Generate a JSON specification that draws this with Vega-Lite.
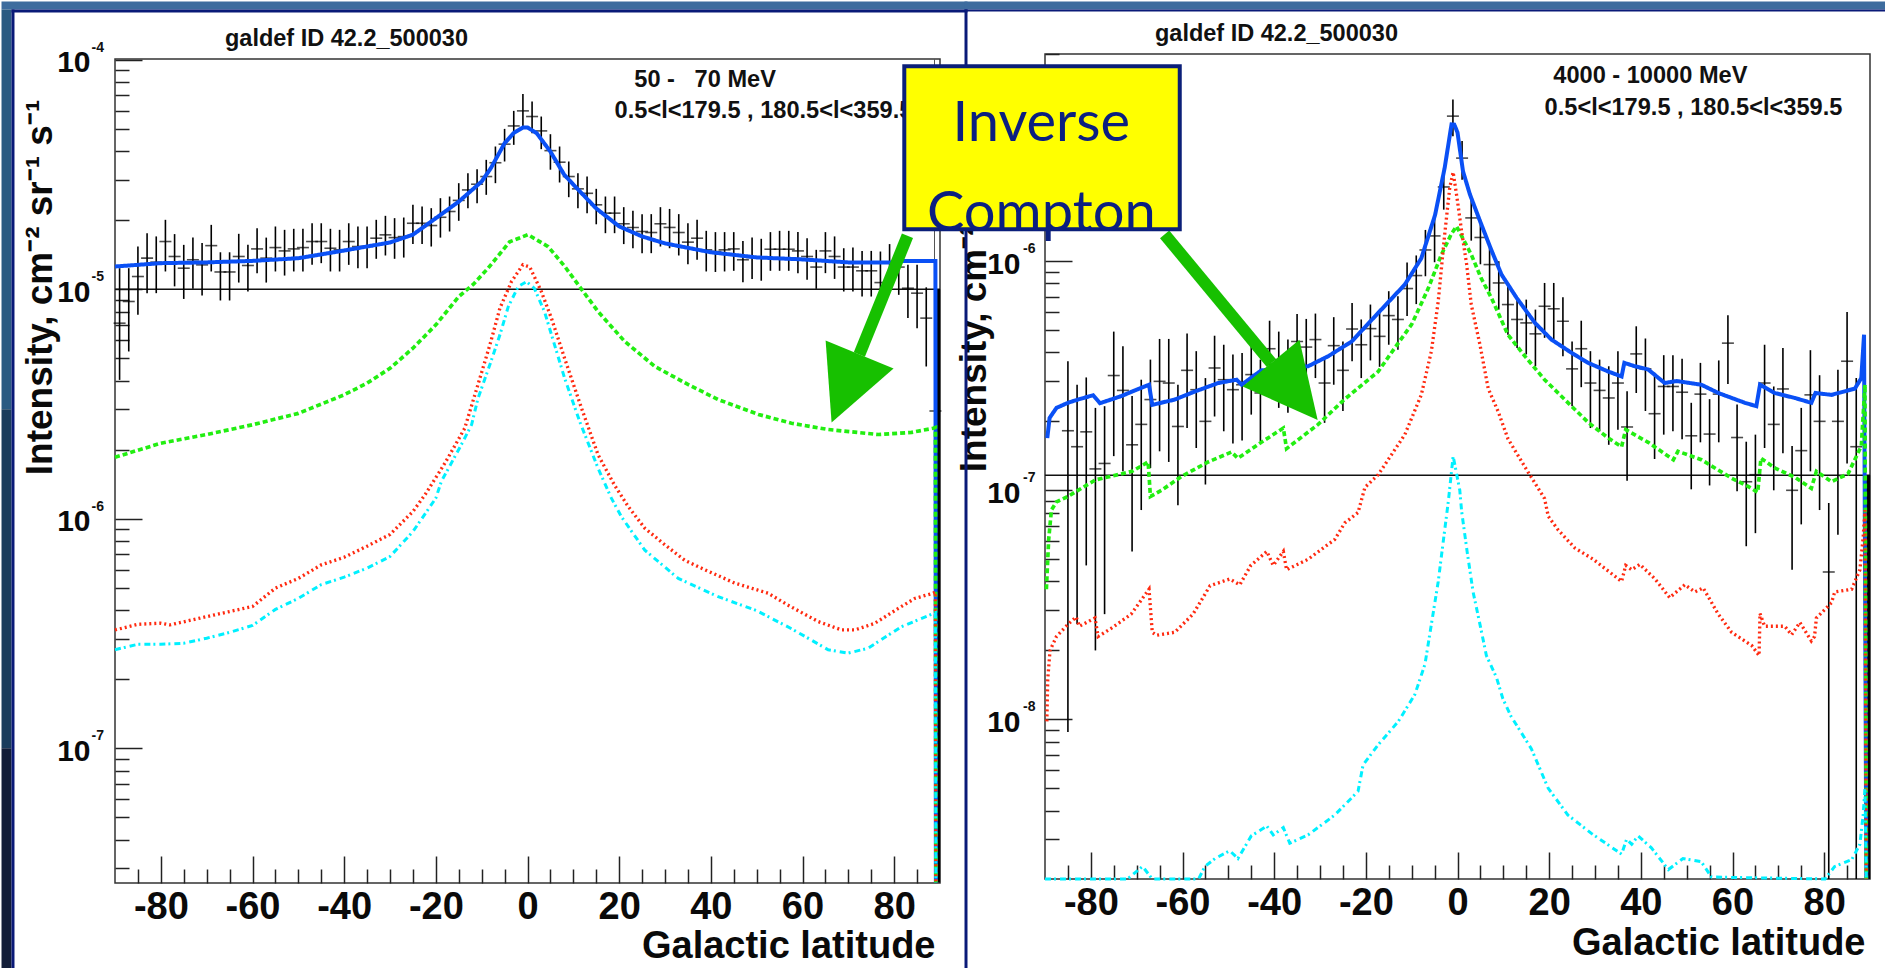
{
"$schema":"https://vega.github.io/schema/vega-lite/v6.json",
"padding":0,"autosize":{"type":"pad"},"background":"#ffffff","bounds":"flush","spacing":930,
"config":{"font":"Liberation Sans","view":{"stroke":"#333333","strokeWidth":1.5},"axis":{"grid":false,"domain":false,"tickColor":"#222222","tickWidth":1.5,"labelColor":"#0a0a0a","titleColor":"#0a0a0a","labelFont":"Liberation Sans","titleFont":"Liberation Sans","labelFontWeight":"bold","titleFontWeight":"bold"}},
"datasets":{
"stripL":[{"x":-114.76,"x2":96,"y":1.795e-4,"y2":1.656e-4,"band":"sky"},{"x":-114.76,"x2":-112.58,"y":1.656e-4,"y2":3e-6,"band":"upper"},{"x":-114.76,"x2":-112.58,"y":3e-6,"y2":1e-7,"band":"middle"},{"x":-114.76,"x2":-112.58,"y":1e-7,"y2":1.104e-8,"band":"lower"},{"x":-112.58,"x2":-111.93,"y":1.656e-4,"y2":1.104e-8,"band":"navy"},{"x":-112.58,"x2":96,"y":1.656e-4,"y2":1.607e-4,"band":"navy"}],
"stripR":[{"x":-107.56,"x2":93.6,"y":1.361e-5,"y2":1.256e-5,"band":"sky"},{"x":-107.56,"x2":-106.91,"y":1.256e-5,"y2":8.21e-10,"band":"navy"},{"x":-107.56,"x2":93.6,"y":1.256e-5,"y2":1.231e-5,"band":"navy"}],
"curvesL":[
{"s":"total","x":-90,"y":1.257e-5},{"s":"total","x":-80,"y":1.30e-5},{"s":"total","x":-70,"y":1.31e-5},{"s":"total","x":-60,"y":1.33e-5},{"s":"total","x":-50,"y":1.366e-5},{"s":"total","x":-40,"y":1.476e-5},{"s":"total","x":-30,"y":1.6e-5},{"s":"total","x":-25,"y":1.73e-5},{"s":"total","x":-20,"y":2.04e-5},{"s":"total","x":-15,"y":2.41e-5},{"s":"total","x":-12,"y":2.72e-5},{"s":"total","x":-10,"y":2.95e-5},{"s":"total","x":-8,"y":3.37e-5},{"s":"total","x":-5,"y":4.33e-5},{"s":"total","x":-3,"y":4.8e-5},{"s":"total","x":-1,"y":5.07e-5},{"s":"total","x":0,"y":5.07e-5},{"s":"total","x":2,"y":4.79e-5},{"s":"total","x":5,"y":3.98e-5},{"s":"total","x":8,"y":3.16e-5},{"s":"total","x":10,"y":2.86e-5},{"s":"total","x":15,"y":2.25e-5},{"s":"total","x":20,"y":1.88e-5},{"s":"total","x":25,"y":1.7e-5},{"s":"total","x":30,"y":1.585e-5},{"s":"total","x":40,"y":1.45e-5},{"s":"total","x":50,"y":1.377e-5},{"s":"total","x":60,"y":1.35e-5},{"s":"total","x":70,"y":1.31e-5},{"s":"total","x":80,"y":1.31e-5},{"s":"total","x":81,"y":1.33e-5},{"s":"total","x":89,"y":1.33e-5},{"s":"total","x":89.1,"y":2.6e-8},
{"s":"ic","x":-90,"y":1.855e-6},{"s":"ic","x":-80,"y":2.135e-6},{"s":"ic","x":-70,"y":2.33e-6},{"s":"ic","x":-60,"y":2.57e-6},{"s":"ic","x":-50,"y":2.88e-6},{"s":"ic","x":-40,"y":3.47e-6},{"s":"ic","x":-35,"y":3.9e-6},{"s":"ic","x":-30,"y":4.53e-6},{"s":"ic","x":-25,"y":5.54e-6},{"s":"ic","x":-20,"y":7e-6},{"s":"ic","x":-15,"y":9.3e-6},{"s":"ic","x":-11.85,"y":1.05e-5},{"s":"ic","x":-8.6,"y":1.236e-5},{"s":"ic","x":-3.9,"y":1.61e-5},{"s":"ic","x":0.1,"y":1.73e-5},{"s":"ic","x":4.5,"y":1.535e-5},{"s":"ic","x":8.1,"y":1.26e-5},{"s":"ic","x":11.8,"y":1e-5},{"s":"ic","x":15.4,"y":8e-6},{"s":"ic","x":21.2,"y":5.93e-6},{"s":"ic","x":27.8,"y":4.61e-6},{"s":"ic","x":35,"y":3.85e-6},{"s":"ic","x":41.6,"y":3.31e-6},{"s":"ic","x":50.4,"y":2.85e-6},{"s":"ic","x":57.6,"y":2.61e-6},{"s":"ic","x":65.6,"y":2.45e-6},{"s":"ic","x":76.5,"y":2.33e-6},{"s":"ic","x":83.8,"y":2.38e-6},{"s":"ic","x":88.5,"y":2.48e-6},{"s":"ic","x":89,"y":2.5e-6},{"s":"ic","x":89.1,"y":2.6e-8},
{"s":"red","x":-90,"y":3.28e-7},{"s":"red","x":-85,"y":3.47e-7},{"s":"red","x":-80,"y":3.51e-7},{"s":"red","x":-78,"y":3.45e-7},{"s":"red","x":-70,"y":3.75e-7},{"s":"red","x":-60,"y":4.15e-7},{"s":"red","x":-55,"y":4.99e-7},{"s":"red","x":-50,"y":5.5e-7},{"s":"red","x":-45,"y":6.3e-7},{"s":"red","x":-40,"y":6.8e-7},{"s":"red","x":-35,"y":7.6e-7},{"s":"red","x":-30,"y":8.55e-7},{"s":"red","x":-25,"y":1.076e-6},{"s":"red","x":-22.4,"y":1.27e-6},{"s":"red","x":-18,"y":1.75e-6},{"s":"red","x":-13.7,"y":2.48e-6},{"s":"red","x":-10.8,"y":3.85e-6},{"s":"red","x":-8.2,"y":5.73e-6},{"s":"red","x":-6,"y":8.3e-6},{"s":"red","x":-3.5,"y":1.08e-5},{"s":"red","x":-1,"y":1.28e-5},{"s":"red","x":0.5,"y":1.25e-5},{"s":"red","x":3,"y":9.8e-6},{"s":"red","x":5.2,"y":7.5e-6},{"s":"red","x":8.1,"y":5e-6},{"s":"red","x":11.8,"y":3.03e-6},{"s":"red","x":15.4,"y":1.9e-6},{"s":"red","x":19,"y":1.4e-6},{"s":"red","x":22,"y":1.13e-6},{"s":"red","x":25.6,"y":9.1e-7},{"s":"red","x":30,"y":7.7e-7},{"s":"red","x":34.3,"y":6.6e-7},{"s":"red","x":38.7,"y":6e-7},{"s":"red","x":45.2,"y":5.25e-7},{"s":"red","x":52.5,"y":4.74e-7},{"s":"red","x":56.9,"y":4.2e-7},{"s":"red","x":63.4,"y":3.57e-7},{"s":"red","x":68.5,"y":3.28e-7},{"s":"red","x":71.4,"y":3.28e-7},{"s":"red","x":75.7,"y":3.5e-7},{"s":"red","x":80.9,"y":4.07e-7},{"s":"red","x":84.5,"y":4.5e-7},{"s":"red","x":88.5,"y":4.74e-7},{"s":"red","x":89,"y":4.8e-7},{"s":"red","x":89.1,"y":2.6e-8},
{"s":"cyan","x":-90,"y":2.69e-7},{"s":"cyan","x":-85,"y":2.84e-7},{"s":"cyan","x":-80,"y":2.84e-7},{"s":"cyan","x":-75,"y":2.87e-7},{"s":"cyan","x":-70,"y":3.02e-7},{"s":"cyan","x":-65,"y":3.2e-7},{"s":"cyan","x":-60,"y":3.43e-7},{"s":"cyan","x":-55,"y":4.03e-7},{"s":"cyan","x":-50,"y":4.5e-7},{"s":"cyan","x":-45,"y":5.17e-7},{"s":"cyan","x":-40,"y":5.57e-7},{"s":"cyan","x":-35,"y":6.1e-7},{"s":"cyan","x":-30,"y":6.85e-7},{"s":"cyan","x":-25,"y":8.8e-7},{"s":"cyan","x":-20,"y":1.23e-6},{"s":"cyan","x":-18.8,"y":1.455e-6},{"s":"cyan","x":-14.4,"y":2.11e-6},{"s":"cyan","x":-12.2,"y":2.57e-6},{"s":"cyan","x":-10.8,"y":3.35e-6},{"s":"cyan","x":-8.2,"y":4.7e-6},{"s":"cyan","x":-6,"y":6.35e-6},{"s":"cyan","x":-4.2,"y":8.4e-6},{"s":"cyan","x":-2,"y":1.03e-5},{"s":"cyan","x":-0.2,"y":1.08e-5},{"s":"cyan","x":1.5,"y":1.01e-5},{"s":"cyan","x":3.7,"y":8e-6},{"s":"cyan","x":5.9,"y":5.73e-6},{"s":"cyan","x":8.1,"y":4.1e-6},{"s":"cyan","x":11.4,"y":2.65e-6},{"s":"cyan","x":15.4,"y":1.66e-6},{"s":"cyan","x":18.3,"y":1.23e-6},{"s":"cyan","x":20.5,"y":1.02e-6},{"s":"cyan","x":25.6,"y":7.3e-7},{"s":"cyan","x":32.9,"y":5.5e-7},{"s":"cyan","x":41.6,"y":4.58e-7},{"s":"cyan","x":50,"y":3.98e-7},{"s":"cyan","x":57.6,"y":3.32e-7},{"s":"cyan","x":65.6,"y":2.69e-7},{"s":"cyan","x":70,"y":2.6e-7},{"s":"cyan","x":74.3,"y":2.73e-7},{"s":"cyan","x":81.6,"y":3.39e-7},{"s":"cyan","x":88.2,"y":3.84e-7},{"s":"cyan","x":89,"y":3.9e-7},{"s":"cyan","x":89.1,"y":2.6e-8}
],
"crossL":[
{"x":-89,"y":0.712e-5,"lo":0.403e-5,"hi":1.236e-5},{"x":-87,"y":0.885e-5,"lo":0.536e-5,"hi":1.236e-5},{"x":-85,"y":1.137e-5,"lo":0.774e-5,"hi":1.537e-5},{"x":-83,"y":1.367e-5,"lo":0.962e-5,"hi":1.756e-5},{"x":-81,"y":1.313e-5,"lo":0.962e-5,"hi":1.7e-5},{"x":-79,"y":1.615e-5,"lo":1.196e-5,"hi":2.008e-5},{"x":-77,"y":1.39e-5,"lo":1.03e-5,"hi":1.74e-5},{"x":-75,"y":1.236e-5,"lo":0.908e-5,"hi":1.562e-5},{"x":-73,"y":1.345e-5,"lo":1.005e-5,"hi":1.68e-5},{"x":-71,"y":1.278e-5,"lo":0.94e-5,"hi":1.59e-5},{"x":-69,"y":1.55e-5,"lo":1.196e-5,"hi":1.909e-5},{"x":-67,"y":1.19e-5,"lo":0.894e-5,"hi":1.45e-5},{"x":-65,"y":1.19e-5,"lo":0.894e-5,"hi":1.45e-5},{"x":-63,"y":1.39e-5,"lo":1.07e-5,"hi":1.745e-5},{"x":-61,"y":1.27e-5,"lo":0.978e-5,"hi":1.562e-5},{"x":-59,"y":1.5e-5,"lo":1.176e-5,"hi":1.846e-5},{"x":-57,"y":1.367e-5,"lo":1.07e-5,"hi":1.68e-5},{"x":-55,"y":1.52e-5,"lo":1.196e-5,"hi":1.878e-5},{"x":-53,"y":1.47e-5,"lo":1.148e-5,"hi":1.816e-5},{"x":-51,"y":1.5e-5,"lo":1.196e-5,"hi":1.835e-5},{"x":-49,"y":1.52e-5,"lo":1.196e-5,"hi":1.835e-5},{"x":-47,"y":1.615e-5,"lo":1.278e-5,"hi":1.94e-5},{"x":-45,"y":1.615e-5,"lo":1.3e-5,"hi":1.94e-5},{"x":-43,"y":1.51e-5,"lo":1.196e-5,"hi":1.835e-5},{"x":-41,"y":1.486e-5,"lo":1.196e-5,"hi":1.816e-5},{"x":-39,"y":1.615e-5,"lo":1.278e-5,"hi":1.94e-5},{"x":-37,"y":1.536e-5,"lo":1.236e-5,"hi":1.878e-5},{"x":-35,"y":1.536e-5,"lo":1.236e-5,"hi":1.878e-5},{"x":-33,"y":1.67e-5,"lo":1.358e-5,"hi":2.008e-5},{"x":-31,"y":1.727e-5,"lo":1.404e-5,"hi":2.09e-5},{"x":-29,"y":1.68e-5,"lo":1.358e-5,"hi":2.042e-5},{"x":-27,"y":1.697e-5,"lo":1.375e-5,"hi":2.055e-5},{"x":-25,"y":1.94e-5,"lo":1.574e-5,"hi":2.334e-5},{"x":-23,"y":1.94e-5,"lo":1.574e-5,"hi":2.295e-5},{"x":-21,"y":1.896e-5,"lo":1.536e-5,"hi":2.257e-5},{"x":-19,"y":2.06e-5,"lo":1.68e-5,"hi":2.495e-5},{"x":-17,"y":2.183e-5,"lo":1.786e-5,"hi":2.537e-5},{"x":-15,"y":2.44e-5,"lo":1.988e-5,"hi":2.9e-5},{"x":-13,"y":2.71e-5,"lo":2.257e-5,"hi":3.206e-5},{"x":-11,"y":2.87e-5,"lo":2.373e-5,"hi":3.337e-5},{"x":-9,"y":3.1e-5,"lo":2.58e-5,"hi":3.665e-5},{"x":-7,"y":3.56e-5,"lo":2.9e-5,"hi":4.19e-5},{"x":-5,"y":4.29e-5,"lo":3.605e-5,"hi":5.0e-5},{"x":-3,"y":5.15e-5,"lo":4.26e-5,"hi":5.99e-5},{"x":-1,"y":5.99e-5,"lo":5.07e-5,"hi":7.1e-5},{"x":1,"y":5.66e-5,"lo":4.79e-5,"hi":6.58e-5},{"x":3,"y":4.9e-5,"lo":4.08e-5,"hi":5.66e-5},{"x":5,"y":4.02e-5,"lo":3.32e-5,"hi":4.74e-5},{"x":7,"y":3.58e-5,"lo":2.92e-5,"hi":4.19e-5},{"x":9,"y":3.1e-5,"lo":2.52e-5,"hi":3.605e-5},{"x":11,"y":2.74e-5,"lo":2.257e-5,"hi":3.206e-5},{"x":13,"y":2.62e-5,"lo":2.147e-5,"hi":3.1e-5},{"x":15,"y":2.334e-5,"lo":1.92e-5,"hi":2.74e-5},{"x":17,"y":2.147e-5,"lo":1.756e-5,"hi":2.537e-5},{"x":19,"y":2.147e-5,"lo":1.756e-5,"hi":2.537e-5},{"x":21,"y":1.93e-5,"lo":1.574e-5,"hi":2.28e-5},{"x":23,"y":1.86e-5,"lo":1.51e-5,"hi":2.2e-5},{"x":25,"y":1.786e-5,"lo":1.437e-5,"hi":2.126e-5},{"x":27,"y":1.768e-5,"lo":1.437e-5,"hi":2.126e-5},{"x":29,"y":1.93e-5,"lo":1.536e-5,"hi":2.28e-5},{"x":31,"y":1.86e-5,"lo":1.51e-5,"hi":2.24e-5},{"x":33,"y":1.768e-5,"lo":1.404e-5,"hi":2.126e-5},{"x":35,"y":1.605e-5,"lo":1.286e-5,"hi":1.94e-5},{"x":37,"y":1.67e-5,"lo":1.345e-5,"hi":2.008e-5},{"x":39,"y":1.486e-5,"lo":1.196e-5,"hi":1.798e-5},{"x":41,"y":1.461e-5,"lo":1.19e-5,"hi":1.775e-5},{"x":43,"y":1.486e-5,"lo":1.196e-5,"hi":1.775e-5},{"x":45,"y":1.5e-5,"lo":1.204e-5,"hi":1.775e-5},{"x":47,"y":1.345e-5,"lo":1.074e-5,"hi":1.625e-5},{"x":49,"y":1.376e-5,"lo":1.11e-5,"hi":1.68e-5},{"x":51,"y":1.376e-5,"lo":1.09e-5,"hi":1.66e-5},{"x":53,"y":1.495e-5,"lo":1.204e-5,"hi":1.775e-5},{"x":55,"y":1.495e-5,"lo":1.204e-5,"hi":1.798e-5},{"x":57,"y":1.495e-5,"lo":1.204e-5,"hi":1.798e-5},{"x":59,"y":1.47e-5,"lo":1.176e-5,"hi":1.775e-5},{"x":61,"y":1.39e-5,"lo":1.1e-5,"hi":1.67e-5},{"x":63,"y":1.25e-5,"lo":1.005e-5,"hi":1.486e-5},{"x":65,"y":1.47e-5,"lo":1.176e-5,"hi":1.775e-5},{"x":67,"y":1.39e-5,"lo":1.11e-5,"hi":1.7e-5},{"x":69,"y":1.25e-5,"lo":0.978e-5,"hi":1.51e-5},{"x":71,"y":1.25e-5,"lo":0.978e-5,"hi":1.52e-5},{"x":73,"y":1.204e-5,"lo":0.93e-5,"hi":1.47e-5},{"x":75,"y":1.204e-5,"lo":0.93e-5,"hi":1.47e-5},{"x":77,"y":1.07e-5,"lo":0.93e-5,"hi":1.461e-5},{"x":79,"y":1.3e-5,"lo":0.978e-5,"hi":1.574e-5},{"x":81,"y":1.25e-5,"lo":0.946e-5,"hi":1.51e-5},{"x":83,"y":1.011e-5,"lo":0.749e-5,"hi":1.278e-5},{"x":85,"y":0.962e-5,"lo":0.677e-5,"hi":1.278e-5},{"x":87,"y":0.749e-5,"lo":0.461e-5,"hi":1.02e-5},{"x":89,"y":0.295e-5,"lo":2.6e-8,"hi":0.4535e-5}
],
"curvesR":[
{"s":"total","x":-89.5,"y":1.69e-7},{"s":"total","x":-89,"y":2.07e-7},{"s":"total","x":-87.5,"y":2.29e-7},{"s":"total","x":-85,"y":2.41e-7},{"s":"total","x":-82.8,"y":2.49e-7},{"s":"total","x":-79.5,"y":2.6e-7},{"s":"total","x":-78,"y":2.4e-7},{"s":"total","x":-73.3,"y":2.58e-7},{"s":"total","x":-70.4,"y":2.73e-7},{"s":"total","x":-67.3,"y":2.89e-7},{"s":"total","x":-66.6,"y":2.36e-7},{"s":"total","x":-61.7,"y":2.49e-7},{"s":"total","x":-57.3,"y":2.7e-7},{"s":"total","x":-52.2,"y":2.94e-7},{"s":"total","x":-48.2,"y":3.04e-7},{"s":"total","x":-47.1,"y":2.89e-7},{"s":"total","x":-42.8,"y":3.34e-7},{"s":"total","x":-32.6,"y":3.48e-7},{"s":"total","x":-28.2,"y":3.85e-7},{"s":"total","x":-23.1,"y":4.46e-7},{"s":"total","x":-17.3,"y":5.95e-7},{"s":"total","x":-11.5,"y":7.91e-7},{"s":"total","x":-7.9,"y":1.03e-6},{"s":"total","x":-4.9,"y":1.59e-6},{"s":"total","x":-2.8,"y":2.556e-6},{"s":"total","x":-1.3,"y":3.96e-6},{"s":"total","x":-0.7,"y":3.95e-6},{"s":"total","x":0,"y":3.65e-6},{"s":"total","x":1.2,"y":2.47e-6},{"s":"total","x":2.7,"y":1.96e-6},{"s":"total","x":4.9,"y":1.5e-6},{"s":"total","x":7.3,"y":1.13e-6},{"s":"total","x":9.6,"y":8.75e-7},{"s":"total","x":12.9,"y":6.92e-7},{"s":"total","x":16.9,"y":5.38e-7},{"s":"total","x":20.5,"y":4.55e-7},{"s":"total","x":24.9,"y":3.98e-7},{"s":"total","x":28.5,"y":3.6e-7},{"s":"total","x":32.9,"y":3.3e-7},{"s":"total","x":35.8,"y":3.14e-7},{"s":"total","x":36.4,"y":3.6e-7},{"s":"total","x":38.7,"y":3.48e-7},{"s":"total","x":41.6,"y":3.37e-7},{"s":"total","x":45.2,"y":2.94e-7},{"s":"total","x":47.8,"y":3e-7},{"s":"total","x":53.2,"y":2.89e-7},{"s":"total","x":56.9,"y":2.66e-7},{"s":"total","x":62.7,"y":2.41e-7},{"s":"total","x":65.2,"y":2.33e-7},{"s":"total","x":66,"y":2.89e-7},{"s":"total","x":69.2,"y":2.66e-7},{"s":"total","x":73.6,"y":2.53e-7},{"s":"total","x":77.2,"y":2.41e-7},{"s":"total","x":78.1,"y":2.66e-7},{"s":"total","x":81.6,"y":2.61e-7},{"s":"total","x":86.7,"y":2.78e-7},{"s":"total","x":88.1,"y":3.09e-7},{"s":"total","x":88.7,"y":4.78e-7},{"s":"total","x":89.2,"y":2.01e-9},
{"s":"ic","x":-89.7,"y":3.7e-8},{"s":"ic","x":-89.2,"y":6.1e-8},{"s":"ic","x":-88.6,"y":8.2e-8},{"s":"ic","x":-87.5,"y":8.9e-8},{"s":"ic","x":-85,"y":9.4e-8},{"s":"ic","x":-79,"y":1.11e-7},{"s":"ic","x":-71,"y":1.21e-7},{"s":"ic","x":-67.5,"y":1.33e-7},{"s":"ic","x":-67,"y":9.4e-8},{"s":"ic","x":-64.6,"y":1e-7},{"s":"ic","x":-60.2,"y":1.15e-7},{"s":"ic","x":-54.4,"y":1.33e-7},{"s":"ic","x":-49.3,"y":1.47e-7},{"s":"ic","x":-47.9,"y":1.38e-7},{"s":"ic","x":-42.8,"y":1.62e-7},{"s":"ic","x":-38,"y":1.87e-7},{"s":"ic","x":-37.3,"y":1.52e-7},{"s":"ic","x":-30.4,"y":1.94e-7},{"s":"ic","x":-24.6,"y":2.5e-7},{"s":"ic","x":-17.3,"y":3.3e-7},{"s":"ic","x":-13.7,"y":4.18e-7},{"s":"ic","x":-10,"y":5.3e-7},{"s":"ic","x":-6.4,"y":7.6e-7},{"s":"ic","x":-3.5,"y":1.07e-6},{"s":"ic","x":-1.3,"y":1.32e-6},{"s":"ic","x":-0.2,"y":1.42e-6},{"s":"ic","x":3,"y":1.07e-6},{"s":"ic","x":5.2,"y":8.4e-7},{"s":"ic","x":7.4,"y":6.92e-7},{"s":"ic","x":11,"y":4.78e-7},{"s":"ic","x":14.7,"y":3.85e-7},{"s":"ic","x":19,"y":3.04e-7},{"s":"ic","x":23.4,"y":2.49e-7},{"s":"ic","x":28.5,"y":1.98e-7},{"s":"ic","x":32.9,"y":1.69e-7},{"s":"ic","x":35.8,"y":1.55e-7},{"s":"ic","x":36.7,"y":1.84e-7},{"s":"ic","x":41.6,"y":1.62e-7},{"s":"ic","x":47.1,"y":1.36e-7},{"s":"ic","x":48.1,"y":1.48e-7},{"s":"ic","x":53.2,"y":1.36e-7},{"s":"ic","x":59.8,"y":1.13e-7},{"s":"ic","x":63.4,"y":1.04e-7},{"s":"ic","x":65.5,"y":9.8e-8},{"s":"ic","x":66.2,"y":1.38e-7},{"s":"ic","x":69.3,"y":1.25e-7},{"s":"ic","x":73.6,"y":1.14e-7},{"s":"ic","x":77.2,"y":1.02e-7},{"s":"ic","x":78.3,"y":1.21e-7},{"s":"ic","x":81.6,"y":1.09e-7},{"s":"ic","x":85.2,"y":1.18e-7},{"s":"ic","x":88.1,"y":1.56e-7},{"s":"ic","x":88.9,"y":2.89e-7},{"s":"ic","x":89.2,"y":2.01e-9},
{"s":"red","x":-89.6,"y":9.8e-9},{"s":"red","x":-89.4,"y":1.5e-8},{"s":"red","x":-88.9,"y":2e-8},{"s":"red","x":-87.5,"y":2.3e-8},{"s":"red","x":-85,"y":2.6e-8},{"s":"red","x":-83.2,"y":2.8e-8},{"s":"red","x":-82.5,"y":2.55e-8},{"s":"red","x":-79.1,"y":2.77e-8},{"s":"red","x":-78.4,"y":2.3e-8},{"s":"red","x":-75.5,"y":2.5e-8},{"s":"red","x":-71.2,"y":2.88e-8},{"s":"red","x":-67.3,"y":3.7e-8},{"s":"red","x":-66.6,"y":2.4e-8},{"s":"red","x":-65.7,"y":2.33e-8},{"s":"red","x":-61.7,"y":2.4e-8},{"s":"red","x":-57.7,"y":2.88e-8},{"s":"red","x":-54,"y":3.83e-8},{"s":"red","x":-49.7,"y":4.1e-8},{"s":"red","x":-47.5,"y":3.87e-8},{"s":"red","x":-45.1,"y":4.7e-8},{"s":"red","x":-41.6,"y":5.41e-8},{"s":"red","x":-40.2,"y":4.7e-8},{"s":"red","x":-38,"y":5.41e-8},{"s":"red","x":-37.3,"y":4.5e-8},{"s":"red","x":-32.6,"y":5e-8},{"s":"red","x":-26.8,"y":6.1e-8},{"s":"red","x":-24.6,"y":7.2e-8},{"s":"red","x":-21.7,"y":8e-8},{"s":"red","x":-20.2,"y":1.03e-7},{"s":"red","x":-17.3,"y":1.17e-7},{"s":"red","x":-11.5,"y":1.75e-7},{"s":"red","x":-7.9,"y":2.61e-7},{"s":"red","x":-5.7,"y":4.05e-7},{"s":"red","x":-4.2,"y":6.69e-7},{"s":"red","x":-2.8,"y":1.307e-6},{"s":"red","x":-1.7,"y":2.09e-6},{"s":"red","x":-0.95,"y":2.45e-6},{"s":"red","x":0,"y":1.828e-6},{"s":"red","x":0.9,"y":1.35e-6},{"s":"red","x":2,"y":9.67e-7},{"s":"red","x":3,"y":6.47e-7},{"s":"red","x":4.9,"y":4.32e-7},{"s":"red","x":6.7,"y":2.78e-7},{"s":"red","x":8.9,"y":2.2e-7},{"s":"red","x":11,"y":1.68e-7},{"s":"red","x":15.4,"y":1.2e-7},{"s":"red","x":19,"y":9.2e-8},{"s":"red","x":19.8,"y":7.7e-8},{"s":"red","x":22,"y":6.7e-8},{"s":"red","x":25.6,"y":5.6e-8},{"s":"red","x":29.6,"y":5e-8},{"s":"red","x":35.8,"y":4e-8},{"s":"red","x":36.7,"y":4.7e-8},{"s":"red","x":38,"y":4.5e-8},{"s":"red","x":39.8,"y":4.75e-8},{"s":"red","x":43.1,"y":4.1e-8},{"s":"red","x":46.3,"y":3.4e-8},{"s":"red","x":49.6,"y":3.87e-8},{"s":"red","x":51.8,"y":3.6e-8},{"s":"red","x":53.6,"y":3.75e-8},{"s":"red","x":56.9,"y":2.88e-8},{"s":"red","x":59.8,"y":2.4e-8},{"s":"red","x":64.2,"y":2.1e-8},{"s":"red","x":65.8,"y":1.9e-8},{"s":"red","x":66,"y":2.9e-8},{"s":"red","x":67,"y":2.55e-8},{"s":"red","x":71.4,"y":2.55e-8},{"s":"red","x":72.9,"y":2.34e-8},{"s":"red","x":74.7,"y":2.65e-8},{"s":"red","x":77.2,"y":2.2e-8},{"s":"red","x":77.9,"y":2.3e-8},{"s":"red","x":78.3,"y":2.77e-8},{"s":"red","x":81.6,"y":3.23e-8},{"s":"red","x":82.3,"y":3.6e-8},{"s":"red","x":86,"y":3.7e-8},{"s":"red","x":87.8,"y":4.5e-8},{"s":"red","x":88.5,"y":6.2e-8},{"s":"red","x":88.9,"y":8.2e-8},{"s":"red","x":89.2,"y":2.01e-9},
{"s":"cyan","x":-90,"y":2.01e-9},{"s":"cyan","x":-72,"y":2.01e-9},{"s":"cyan","x":-68.7,"y":2.28e-9},{"s":"cyan","x":-66.6,"y":2.01e-9},{"s":"cyan","x":-56.5,"y":2.01e-9},{"s":"cyan","x":-55.1,"y":2.28e-9},{"s":"cyan","x":-52.9,"y":2.47e-9},{"s":"cyan","x":-49.7,"y":2.67e-9},{"s":"cyan","x":-47.9,"y":2.47e-9},{"s":"cyan","x":-45,"y":3.1e-9},{"s":"cyan","x":-41.6,"y":3.42e-9},{"s":"cyan","x":-40.2,"y":3.13e-9},{"s":"cyan","x":-38,"y":3.37e-9},{"s":"cyan","x":-36.6,"y":2.88e-9},{"s":"cyan","x":-32.6,"y":3.13e-9},{"s":"cyan","x":-26.8,"y":3.82e-9},{"s":"cyan","x":-21.7,"y":4.85e-9},{"s":"cyan","x":-20.6,"y":6.33e-9},{"s":"cyan","x":-17.3,"y":7.75e-9},{"s":"cyan","x":-12.9,"y":9.8e-9},{"s":"cyan","x":-9.3,"y":1.285e-8},{"s":"cyan","x":-7.1,"y":1.74e-8},{"s":"cyan","x":-5.7,"y":2.6e-8},{"s":"cyan","x":-4.2,"y":4e-8},{"s":"cyan","x":-3.1,"y":6e-8},{"s":"cyan","x":-2,"y":8.95e-8},{"s":"cyan","x":-0.95,"y":1.41e-7},{"s":"cyan","x":0.5,"y":1e-7},{"s":"cyan","x":0.9,"y":8.1e-8},{"s":"cyan","x":2.1,"y":5.4e-8},{"s":"cyan","x":3.4,"y":3.6e-8},{"s":"cyan","x":4.9,"y":2.6e-8},{"s":"cyan","x":6.3,"y":1.9e-8},{"s":"cyan","x":8.5,"y":1.525e-8},{"s":"cyan","x":9.9,"y":1.23e-8},{"s":"cyan","x":11.7,"y":1.03e-8},{"s":"cyan","x":16.1,"y":7.45e-9},{"s":"cyan","x":19.8,"y":5e-9},{"s":"cyan","x":24.1,"y":3.82e-9},{"s":"cyan","x":29.2,"y":3.18e-9},{"s":"cyan","x":35.8,"y":2.58e-9},{"s":"cyan","x":36.9,"y":3e-9},{"s":"cyan","x":38,"y":2.85e-9},{"s":"cyan","x":39.4,"y":3.1e-9},{"s":"cyan","x":42.3,"y":2.75e-9},{"s":"cyan","x":46,"y":2.21e-9},{"s":"cyan","x":49.2,"y":2.47e-9},{"s":"cyan","x":53.2,"y":2.39e-9},{"s":"cyan","x":55.4,"y":2.05e-9},{"s":"cyan","x":80.2,"y":2.01e-9},{"s":"cyan","x":82.3,"y":2.28e-9},{"s":"cyan","x":86,"y":2.44e-9},{"s":"cyan","x":87.8,"y":2.85e-9},{"s":"cyan","x":88.5,"y":3.82e-9},{"s":"cyan","x":88.9,"y":5e-9},{"s":"cyan","x":89.2,"y":2.01e-9}
],
"crossR":[
{"x":-85,"y":1.82e-7,"lo":0.088e-7,"hi":3.66e-7},{"x":-83,"y":1.55e-7,"lo":0.26e-7,"hi":2.89e-7},{"x":-81,"y":1.8e-7,"lo":0.47e-7,"hi":3.11e-7},{"x":-79,"y":1.24e-7,"lo":0.2e-7,"hi":2.29e-7},{"x":-77,"y":1.31e-7,"lo":0.288e-7,"hi":2.33e-7},{"x":-75,"y":3.17e-7,"lo":1.41e-7,"hi":4.93e-7},{"x":-73,"y":2.73e-7,"lo":1.21e-7,"hi":4.25e-7},{"x":-71,"y":1.58e-7,"lo":0.541e-7,"hi":2.58e-7},{"x":-69,"y":1.94e-7,"lo":0.82e-7,"hi":3.04e-7},{"x":-67,"y":2.49e-7,"lo":1.25e-7,"hi":3.72e-7},{"x":-65,"y":2.99e-7,"lo":1.48e-7,"hi":4.58e-7},{"x":-63,"y":2.94e-7,"lo":1.33e-7,"hi":4.58e-7},{"x":-61,"y":1.9e-7,"lo":0.86e-7,"hi":2.89e-7},{"x":-59,"y":3.34e-7,"lo":1.87e-7,"hi":4.84e-7},{"x":-57,"y":2.75e-7,"lo":1.53e-7,"hi":4.05e-7},{"x":-55,"y":2e-7,"lo":1.06e-7,"hi":3.09e-7},{"x":-53,"y":3.42e-7,"lo":2.1e-7,"hi":4.73e-7},{"x":-51,"y":3.04e-7,"lo":1.81e-7,"hi":4.32e-7},{"x":-49,"y":2.75e-7,"lo":1.6e-7,"hi":3.92e-7},{"x":-47,"y":2.89e-7,"lo":1.65e-7,"hi":3.98e-7},{"x":-45,"y":3.2e-7,"lo":2.14e-7,"hi":4.46e-7},{"x":-43,"y":2.66e-7,"lo":1.64e-7,"hi":3.72e-7},{"x":-41,"y":4.15e-7,"lo":2.53e-7,"hi":5.5e-7},{"x":-39,"y":3.72e-7,"lo":2.29e-7,"hi":4.93e-7},{"x":-37,"y":3.09e-7,"lo":2.18e-7,"hi":4.55e-7},{"x":-35,"y":4.46e-7,"lo":2.99e-7,"hi":5.89e-7},{"x":-33,"y":4.22e-7,"lo":2.71e-7,"hi":5.6e-7},{"x":-31,"y":4.55e-7,"lo":3.09e-7,"hi":5.91e-7},{"x":-29,"y":2.94e-7,"lo":1.97e-7,"hi":3.85e-7},{"x":-27,"y":4.28e-7,"lo":2.89e-7,"hi":5.7e-7},{"x":-25,"y":3.34e-7,"lo":2.22e-7,"hi":4.46e-7},{"x":-23,"y":5.06e-7,"lo":3.66e-7,"hi":6.58e-7},{"x":-21,"y":4.32e-7,"lo":3.09e-7,"hi":5.57e-7},{"x":-19,"y":5.08e-7,"lo":3.69e-7,"hi":6.47e-7},{"x":-17,"y":4.7e-7,"lo":3.46e-7,"hi":5.95e-7},{"x":-15,"y":5.79e-7,"lo":4.32e-7,"hi":7.4e-7},{"x":-13,"y":5.57e-7,"lo":4.11e-7,"hi":7.03e-7},{"x":-11,"y":7.6e-7,"lo":5.76e-7,"hi":9.87e-7},{"x":-9,"y":8.66e-7,"lo":6.5e-7,"hi":1.06e-6},{"x":-7,"y":1.12e-6,"lo":8.6e-7,"hi":1.37e-6},{"x":-5,"y":1.29e-6,"lo":9.9e-7,"hi":1.546e-6},{"x":-3,"y":2.11e-6,"lo":1.68e-6,"hi":2.556e-6},{"x":-1,"y":4.3e-6,"lo":3.51e-6,"hi":5.08e-6},{"x":1,"y":2.82e-6,"lo":2.27e-6,"hi":3.35e-6},{"x":3,"y":1.546e-6,"lo":1.23e-6,"hi":1.91e-6},{"x":5,"y":1.27e-6,"lo":9.7e-7,"hi":1.52e-6},{"x":7,"y":9.67e-7,"lo":7.4e-7,"hi":1.18e-6},{"x":9,"y":8.04e-7,"lo":6.15e-7,"hi":1e-6},{"x":11,"y":6.47e-7,"lo":4.78e-7,"hi":7.91e-7},{"x":13,"y":5.57e-7,"lo":4.18e-7,"hi":6.92e-7},{"x":15,"y":5.38e-7,"lo":3.92e-7,"hi":6.8e-7},{"x":17,"y":4.82e-7,"lo":3.48e-7,"hi":6.15e-7},{"x":19,"y":6.36e-7,"lo":4.63e-7,"hi":8.04e-7},{"x":21,"y":6.2e-7,"lo":4.55e-7,"hi":8.04e-7},{"x":23,"y":5.47e-7,"lo":3.85e-7,"hi":6.96e-7},{"x":25,"y":3.39e-7,"lo":2.33e-7,"hi":4.46e-7},{"x":27,"y":4.15e-7,"lo":2.82e-7,"hi":5.5e-7},{"x":29,"y":2.94e-7,"lo":1.87e-7,"hi":4.05e-7},{"x":31,"y":2.73e-7,"lo":1.81e-7,"hi":3.72e-7},{"x":33,"y":2.53e-7,"lo":1.58e-7,"hi":3.48e-7},{"x":35,"y":2.94e-7,"lo":1.84e-7,"hi":4.05e-7},{"x":37,"y":1.89e-7,"lo":1.1e-7,"hi":2.71e-7},{"x":39,"y":3.94e-7,"lo":2.66e-7,"hi":5.2e-7},{"x":41,"y":3.39e-7,"lo":2.22e-7,"hi":4.6e-7},{"x":43,"y":2.16e-7,"lo":1.37e-7,"hi":3.26e-7},{"x":45,"y":2.84e-7,"lo":1.75e-7,"hi":3.89e-7},{"x":47,"y":2.84e-7,"lo":1.81e-7,"hi":3.89e-7},{"x":49,"y":2.68e-7,"lo":1.67e-7,"hi":3.75e-7},{"x":51,"y":1.73e-7,"lo":1.01e-7,"hi":2.41e-7},{"x":53,"y":2.63e-7,"lo":1.62e-7,"hi":3.6e-7},{"x":55,"y":1.76e-7,"lo":1.05e-7,"hi":2.5e-7},{"x":57,"y":2.63e-7,"lo":1.62e-7,"hi":3.69e-7},{"x":59,"y":4.39e-7,"lo":2.91e-7,"hi":5.81e-7},{"x":61,"y":1.7e-7,"lo":0.99e-7,"hi":2.37e-7},{"x":63,"y":1.09e-7,"lo":0.57e-7,"hi":1.63e-7},{"x":65,"y":1.17e-7,"lo":0.65e-7,"hi":1.75e-7},{"x":67,"y":2.94e-7,"lo":1.53e-7,"hi":4.32e-7},{"x":69,"y":1.94e-7,"lo":1e-7,"hi":2.84e-7},{"x":71,"y":2.77e-7,"lo":1.45e-7,"hi":4.18e-7},{"x":73,"y":1e-7,"lo":0.45e-7,"hi":1.56e-7},{"x":75,"y":1.49e-7,"lo":0.71e-7,"hi":2.29e-7},{"x":77,"y":2.61e-7,"lo":1.21e-7,"hi":4.09e-7},{"x":79,"y":2e-7,"lo":0.82e-7,"hi":3.18e-7},{"x":81,"y":0.44e-7,"lo":2.01e-9,"hi":0.88e-7},{"x":83,"y":2e-7,"lo":0.64e-7,"hi":3.36e-7},{"x":85,"y":3.66e-7,"lo":1.31e-7,"hi":6e-7},{"x":87,"y":1.55e-7,"lo":2.01e-9,"hi":3.09e-7}
]
},
"hconcat":[
{"bounds":"flush","spacing":0,"vconcat":[
{"width":825,"height":5,"data":{"values":[{"x":0}]},"mark":{"type":"rule","opacity":0},"encoding":{},"view":{"stroke":null}},
{"width":825,"height":824,
"encoding":{"x":{"field":"x","type":"quantitative","scale":{"domain":[-90,90],"nice":false,"zero":false},"axis":null},"y":{"field":"y","type":"quantitative","scale":{"type":"log","domain":[2.59e-8,1.008e-4],"nice":false},"axis":null}},
"resolve":{"axis":{"x":"independent","y":"independent"}},
"layer":[
{"data":{"name":"stripL"},"mark":{"type":"rect"},
 "encoding":{
  "x":{"field":"x","type":"quantitative","scale":{"domain":[-90,90],"nice":false,"zero":false},"axis":{"orient":"bottom","values":[-80,-60,-40,-20,0,20,40,60,80],"labelExpr":"''+datum.value","tickSize":-27,"labelFontSize":38,"labelPadding":32,"labelFlush":false,"labelOverlap":false,"title":"Galactic latitude","titleFontSize":38,"titleAlign":"right","titleBaseline":"middle","titleX":820,"titleY":63.5}},
  "y":{"field":"y","type":"quantitative","scale":{"type":"log","domain":[2.59e-8,1.008e-4],"nice":false},"axis":{"orient":"left","values":[1e-4,1e-5,1e-6,1e-7],"labelExpr":"'10'","tickSize":-27,"labelFontSize":30,"labelPadding":52,"labelBaseline":"middle","labelOffset":3,"labelOverlap":false,"labelFlush":false,"title":"Intensity, cm⁻² sr⁻¹ s⁻¹","titleFontSize":37,"titleAlign":"center","titleBaseline":"middle","titleX":-75,"titleY":228,"titleAngle":-90}},
  "x2":{"field":"x2"},"y2":{"field":"y2"},
  "fill":{"field":"band","type":"nominal","legend":null,"scale":{"domain":["sky","upper","middle","lower","navy"],"range":["#3d6c9e","#2a5a82","#1a3c5c","#121d38","#0a1a78"]}}}},
{"data":{"values":[{"x":-90,"x2":90,"y":1e-5}]},"mark":{"type":"rule","color":"#111111","strokeWidth":1.5},
 "encoding":{
  "x":{"field":"x","type":"quantitative","scale":{"domain":[-90,90],"nice":false,"zero":false},"axis":{"orient":"bottom","values":[-85,-75,-70,-65,-55,-50,-45,-35,-30,-25,-15,-10,-5,5,10,15,25,30,35,45,50,55,65,70,75,85],"tickSize":-14,"labels":false,"title":null}},
  "y":{"field":"y","type":"quantitative","scale":{"type":"log","domain":[2.59e-8,1.008e-4],"nice":false},"axis":{"orient":"left","values":[3e-8,4e-8,5e-8,6e-8,7e-8,8e-8,9e-8,2e-7,3e-7,4e-7,5e-7,6e-7,7e-7,8e-7,9e-7,2e-6,3e-6,4e-6,5e-6,6e-6,7e-6,8e-6,9e-6,2e-5,3e-5,4e-5,5e-5,6e-5,7e-5,8e-5,9e-5],"tickSize":-14,"labels":false,"title":null}},
  "x2":{"field":"x2"}}},
{"data":{"values":[{"x":-90,"y":1e-4,"t":"-4"},{"x":-90,"y":1e-5,"t":"-5"},{"x":-90,"y":1e-6,"t":"-6"},{"x":-90,"y":1e-7,"t":"-7"}]},"mark":{"type":"text","align":"left","baseline":"middle","dx":-23.5,"dy":-12,"fontSize":14,"fontWeight":"bold","color":"#111111"},"encoding":{"text":{"field":"t"}}},
{"data":{"values":[{"x":-39.5,"y":1.238e-4,"t":"galdef ID 42.2_500030"}]},"mark":{"type":"text","align":"center","baseline":"middle","fontSize":23.5,"fontWeight":"bold","color":"#111111"},"encoding":{"text":{"field":"t"}}},
{"data":{"name":"crossL"},"mark":{"type":"rule","color":"#000000","strokeWidth":1.6},"encoding":{"y":{"field":"lo","type":"quantitative","scale":{"type":"log","domain":[2.59e-8,1.008e-4],"nice":false},"axis":null},"y2":{"field":"hi"}}},
{"data":{"name":"crossL"},"mark":{"type":"tick","orient":"horizontal","size":12,"thickness":1.6,"color":"#000000"}},
{"data":{"values":[{"x":88.8,"lo":2.6e-8,"hi":1.008e-4}]},"mark":{"type":"rule","color":"#555555","strokeWidth":1},"encoding":{"y":{"field":"lo","type":"quantitative","scale":{"type":"log","domain":[2.59e-8,1.008e-4],"nice":false},"axis":null},"y2":{"field":"hi"}}},
{"data":{"values":[{"x":89.6,"lo":2.6e-8,"hi":1e-5}]},"mark":{"type":"rule","color":"#000000","strokeWidth":4},"encoding":{"y":{"field":"lo","type":"quantitative","scale":{"type":"log","domain":[2.59e-8,1.008e-4],"nice":false},"axis":null},"y2":{"field":"hi"}}},
{"data":{"name":"curvesL"},"mark":{"type":"line"},"encoding":{"strokeWidth":{"field":"s","type":"nominal","legend":null,"scale":{"domain":["total","ic","red","cyan"],"range":[4,3,3,3]}},"stroke":{"field":"s","type":"nominal","legend":null,"scale":{"domain":["total","ic","red","cyan"],"range":["#0a50f5","#22ee11","#ff2a10","#00f0ff"]}},"strokeDash":{"field":"s","type":"nominal","legend":null,"scale":{"domain":["total","ic","red","cyan"],"range":[[1,0],[5,3],[2,3],[6,3,2,4]]}}}},
{"data":{"values":[{"x":23.3,"y":8.13e-5,"t":"50 -\u00a0\u00a0\u00a070 MeV"},{"x":19,"y":5.96e-5,"t":"0.5<l<179.5 , 180.5<l<359.5"}]},"mark":{"type":"text","align":"left","baseline":"middle","fontSize":23.6,"fontWeight":"bold","color":"#111111"},"encoding":{"text":{"field":"t"}}},
{"data":{"values":[{"x":82.9,"y":1.71e-5},{"x":72.4,"y":5.2e-6}]},"mark":{"type":"line","color":"#17c000","strokeWidth":12,"strokeCap":"butt"}},
{"data":{"values":[{"x":69.4,"y":3.7e-6}]},"mark":{"type":"point","shape":"M0,-1L-1,1L1,1Z","filled":true,"size":5400,"angle":202.4,"color":"#17c000","opacity":1}}
]}
]},
{"width":825,"height":825,
"encoding":{"x":{"field":"x","type":"quantitative","scale":{"domain":[-90,90],"nice":false,"zero":false},"axis":null},"y":{"field":"y","type":"quantitative","scale":{"type":"log","domain":[2.01e-9,8.03e-6],"nice":false},"axis":null}},
"resolve":{"axis":{"x":"independent","y":"independent"}},
"layer":[
{"data":{"name":"stripR"},"mark":{"type":"rect"},
 "encoding":{
  "x":{"field":"x","type":"quantitative","scale":{"domain":[-90,90],"nice":false,"zero":false},"axis":{"orient":"bottom","values":[-80,-60,-40,-20,0,20,40,60,80],"labelExpr":"''+datum.value","tickSize":-27,"labelFontSize":38,"labelPadding":32,"labelFlush":false,"labelOverlap":false,"title":"Galactic latitude","titleFontSize":38,"titleAlign":"right","titleBaseline":"middle","titleX":820,"titleY":64.5}},
  "y":{"field":"y","type":"quantitative","scale":{"type":"log","domain":[2.01e-9,8.03e-6],"nice":false},"axis":{"orient":"left","values":[1e-6,1e-7,1e-8],"labelExpr":"'10'","tickSize":-27,"labelFontSize":30,"labelPadding":52,"labelBaseline":"middle","labelOffset":3,"labelOverlap":false,"labelFlush":false,"title":"Intensity, cm⁻² sr⁻¹ s⁻¹","titleFontSize":37,"titleAlign":"center","titleBaseline":"middle","titleX":-71,"titleY":230,"titleAngle":-90}},
  "x2":{"field":"x2"},"y2":{"field":"y2"},
  "fill":{"field":"band","type":"nominal","legend":null,"scale":{"domain":["sky","upper","middle","lower","navy"],"range":["#3d6c9e","#2a5a82","#1a3c5c","#121d38","#0a1a78"]}}}},
{"data":{"values":[{"x":-90,"x2":90,"y":1.163e-7}]},"mark":{"type":"rule","color":"#111111","strokeWidth":1.5},
 "encoding":{
  "x":{"field":"x","type":"quantitative","scale":{"domain":[-90,90],"nice":false,"zero":false},"axis":{"orient":"bottom","values":[-85,-75,-70,-65,-55,-50,-45,-35,-30,-25,-15,-10,-5,5,10,15,25,30,35,45,50,55,65,70,75,85],"tickSize":-14,"labels":false,"title":null}},
  "y":{"field":"y","type":"quantitative","scale":{"type":"log","domain":[2.01e-9,8.03e-6],"nice":false},"axis":{"orient":"left","values":[3e-9,4e-9,5e-9,6e-9,7e-9,8e-9,9e-9,2e-8,3e-8,4e-8,5e-8,6e-8,7e-8,8e-8,9e-8,2e-7,3e-7,4e-7,5e-7,6e-7,7e-7,8e-7,9e-7,2e-6,3e-6,4e-6,5e-6,6e-6,7e-6,8e-6],"tickSize":-14,"labels":false,"title":null}},
  "x2":{"field":"x2"}}},
{"data":{"values":[{"x":-90,"y":1e-6,"t":"-6"},{"x":-90,"y":1e-7,"t":"-7"},{"x":-90,"y":1e-8,"t":"-8"}]},"mark":{"type":"text","align":"left","baseline":"middle","dx":-22,"dy":-12.5,"fontSize":14,"fontWeight":"bold","color":"#111111"},"encoding":{"text":{"field":"t"}}},
{"data":{"values":[{"x":-39.5,"y":9.77e-6,"t":"galdef ID 42.2_500030"}]},"mark":{"type":"text","align":"center","baseline":"middle","fontSize":23.5,"fontWeight":"bold","color":"#111111"},"encoding":{"text":{"field":"t"}}},
{"data":{"name":"crossR"},"mark":{"type":"rule","color":"#000000","strokeWidth":1.6},"encoding":{"y":{"field":"lo","type":"quantitative","scale":{"type":"log","domain":[2.01e-9,8.03e-6],"nice":false},"axis":null},"y2":{"field":"hi"}}},
{"data":{"name":"crossR"},"mark":{"type":"tick","orient":"horizontal","size":12,"thickness":1.6,"color":"#000000"}},
{"data":{"values":[{"x":89.6,"lo":2.01e-9,"hi":1.163e-7}]},"mark":{"type":"rule","color":"#000000","strokeWidth":4},"encoding":{"y":{"field":"lo","type":"quantitative","scale":{"type":"log","domain":[2.01e-9,8.03e-6],"nice":false},"axis":null},"y2":{"field":"hi"}}},
{"data":{"name":"curvesR"},"mark":{"type":"line"},"encoding":{"strokeWidth":{"field":"s","type":"nominal","legend":null,"scale":{"domain":["total","ic","red","cyan"],"range":[4,3,3,3]}},"stroke":{"field":"s","type":"nominal","legend":null,"scale":{"domain":["total","ic","red","cyan"],"range":["#0a50f5","#22ee11","#ff2a10","#00f0ff"]}},"strokeDash":{"field":"s","type":"nominal","legend":null,"scale":{"domain":["total","ic","red","cyan"],"range":[[1,0],[5,3],[2,3],[6,3,2,4]]}}}},
{"data":{"values":[{"x":20.9,"y":6.43e-6,"t":"4000 - 10000 MeV"},{"x":19,"y":4.66e-6,"t":"0.5<l<179.5 , 180.5<l<359.5"}]},"mark":{"type":"text","align":"left","baseline":"middle","fontSize":23.6,"fontWeight":"bold","color":"#111111"},"encoding":{"text":{"field":"t"}}},
{"data":{"values":[{"x":-63.9,"y":1.31e-6},{"x":-40.6,"y":3.59e-7}]},"mark":{"type":"line","color":"#17c000","strokeWidth":12,"strokeCap":"butt"}},
{"data":{"values":[{"x":-35.6,"y":2.7e-7}]},"mark":{"type":"point","shape":"M0,-1L-1,1L1,1Z","filled":true,"size":5400,"angle":140.6,"color":"#17c000","opacity":1}},
{"data":{"values":[{"x":-120.7,"x2":-60.6,"y":7.1e-6,"y2":1.38e-6}]},"mark":{"type":"rect","fill":"#ffff00","stroke":"#0b1f78","strokeWidth":4},"encoding":{"x2":{"field":"x2"},"y2":{"field":"y2"}}},
{"data":{"values":[{"x":-90.8,"y":3.98e-6,"t":"Inverse"},{"x":-90.8,"y":1.61e-6,"t":"Compton"}]},"mark":{"type":"text","align":"center","baseline":"middle","font":"Comic Sans MS, Lato","fontSize":56,"color":"#0b1f80"},"encoding":{"text":{"field":"t"}}}
]}
]
}
